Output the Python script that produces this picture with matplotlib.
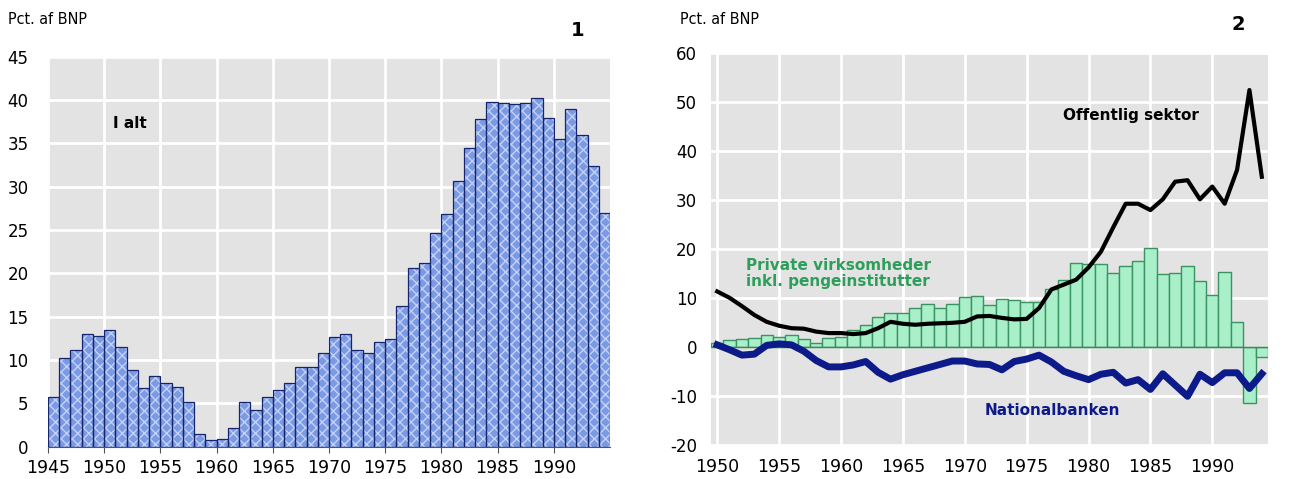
import numpy as np
from matplotlib import pyplot as plt

# chart 1: I alt, 1945-1994
years1 = np.arange(1945, 1995)
i_alt = [5.7, 10.2, 11.2, 13.0, 12.8, 13.5, 11.5, 8.9, 6.8, 8.2,
         7.3, 6.9, 5.1, 1.5, 0.8, 0.9, 2.2, 5.1, 4.2, 5.7,
         6.5, 7.4, 9.2, 9.2, 10.8, 12.6, 13.0, 11.2, 10.8, 12.1,
         12.4, 16.2, 20.6, 21.2, 24.7, 26.8, 30.6, 34.5, 37.8, 39.8,
         39.7, 39.5, 39.7, 40.2, 37.9, 35.5, 39.0, 36.0, 32.4, 27.0]

# chart 2: sectors, 1950-1994
years2 = np.arange(1950, 1995)
private = [0.8, 1.5, 1.6, 2.0, 2.5, 2.2, 2.5, 1.6, 0.8, 1.8,
           2.2, 3.5, 4.6, 6.1, 7.1, 6.9, 8.0, 8.8, 8.0, 8.8,
           10.3, 10.5, 8.6, 9.8, 9.7, 9.3, 9.3, 12.0, 13.7, 17.3,
           17.1, 17.1, 15.1, 16.6, 17.6, 20.3, 14.9, 15.1, 16.6, 13.6,
           10.7, 15.3, 5.1, -11.4, -2.0]
offentlig = [11.4, 10.1, 8.4, 6.6, 5.2, 4.4, 3.9, 3.8, 3.2, 2.9,
             2.9, 2.7, 2.9, 3.9, 5.2, 4.8, 4.6, 4.8, 4.9, 5.0,
             5.2, 6.3, 6.4, 6.0, 5.7, 5.8, 8.0, 11.8, 12.8, 13.8,
             16.3, 19.5, 24.5, 29.3, 29.3, 28.0, 30.2, 33.8, 34.1, 30.2,
             32.8, 29.3, 36.2, 52.5, 34.8]
nationalbanken = [0.5, -0.5, -1.6, -1.4, 0.4, 0.7, 0.5, -0.8, -2.7, -4.0,
                  -4.0, -3.6, -2.9, -5.1, -6.5, -5.6, -4.9, -4.2, -3.5, -2.8,
                  -2.8, -3.4, -3.5, -4.6, -2.9, -2.4, -1.6, -3.0, -4.9, -5.8,
                  -6.6, -5.5, -5.1, -7.3, -6.6, -8.6, -5.4, -7.7, -10.0, -5.5,
                  -7.2, -5.2, -5.2, -8.4, -5.4]

plt.rcParams['font.family'] = ['DejaVu Sans']
plt.rcParams['axes.unicode_minus'] = False
bg = '#e3e3e3'

fig = plt.figure(figsize=(12.95, 4.79), dpi=100)

# ---- chart 1
ax1 = fig.add_axes([48/1295, 32.3/479, 562/1295, 390.1/479])
ax1.set_facecolor(bg)
ax1.bar(years1, i_alt, width=1, align='edge', color='#7b9ae4',
        edgecolor='#c3d1f7', hatch='xxx', linewidth=0, zorder=2)
ax1.bar(years1, i_alt, width=1, align='edge', fill=False,
        edgecolor='#16246e', linewidth=0.9, zorder=3)
ax1.set_xlim(1945, 1995)
ax1.set_ylim(0, 45)
ax1.set_yticks(range(0, 46, 5))
ax1.set_xticks(range(1945, 1995, 5))
ax1.grid(True, color='white', linewidth=2, zorder=0)
ax1.set_axisbelow(True)
for s in ['top', 'right', 'left']:
    ax1.spines[s].set_visible(False)
ax1.spines['bottom'].set_color('#555555')
ax1.tick_params(axis='y', length=0, pad=14, labelsize=12)
ax1.tick_params(axis='x', length=4, color='#555555', pad=5, labelsize=12.5)
ax1.text(1950.8, 37.3, 'I alt', fontsize=11, fontweight='bold', va='center')

fig.text(8/1295, 1 - 20/479, 'Pct. af BNP', fontsize=11.5, va='center',
         fontstretch='condensed')
fig.text(578/1295, 1 - 31/479, '1', fontsize=14, fontweight='bold',
         va='center', ha='center')

# ---- chart 2
ax2 = fig.add_axes([711/1295, 33.7/479, 557/1295, 392/479])
ax2.set_facecolor(bg)
ax2.bar(years2, private, width=1, color='#a9efca', edgecolor='#3a9462',
        linewidth=1.0, zorder=2)
ax2.plot(years2, offentlig, color='black', linewidth=3, zorder=4)
ax2.plot(years2, nationalbanken, color='#0c1a8a', linewidth=5,
         solid_joinstyle='round', zorder=4)
ax2.axhline(0, color='#4d7d60', linewidth=1, zorder=3)
ax2.set_xlim(1949.5, 1994.5)
ax2.set_ylim(-20, 60)
ax2.set_yticks(range(-20, 61, 10))
ax2.set_xticks(range(1950, 1994, 5))
ax2.grid(True, color='white', linewidth=2, zorder=0)
ax2.set_axisbelow(True)
for s in ax2.spines.values():
    s.set_visible(False)
ax2.tick_params(axis='y', length=0, pad=10, labelsize=12)
ax2.tick_params(axis='x', length=0, pad=9, labelsize=12.5)

ax2.text(1983.4, 47.4, 'Offentlig sektor', fontsize=11, fontweight='bold',
         ha='center', va='center')
ax2.text(1952.3, 15.0, 'Private virksomheder\ninkl. pengeinstitutter',
         fontsize=11, fontweight='bold', color='#2e9e5b', va='center',
         linespacing=1.1)
ax2.text(1977.1, -12.8, 'Nationalbanken', fontsize=11, fontweight='bold',
         color='#0c1a8a', ha='center', va='center')

fig.text(680/1295, 1 - 20/479, 'Pct. af BNP', fontsize=11.5, va='center',
         fontstretch='condensed')
fig.text(1238/1295, 1 - 25/479, '2', fontsize=14, fontweight='bold',
         va='center', ha='center')

fig.savefig('out.png', dpi=100)
